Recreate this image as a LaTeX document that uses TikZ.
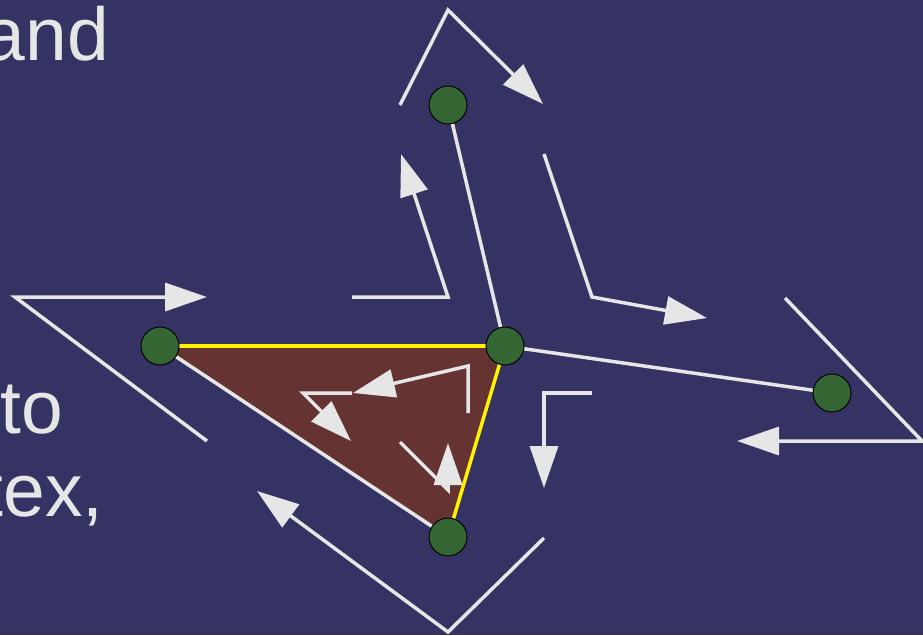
\documentclass[tikz,border=0pt]{standalone}
\usepackage{fontspec}
\setmainfont{Liberation Sans}
\usetikzlibrary{arrows.meta}
\definecolor{bg}{RGB}{52,51,99}
\definecolor{tri}{RGB}{102,51,51}
\definecolor{vert}{RGB}{51,102,51}
\definecolor{ln}{RGB}{230,230,230}
\tikzset{
  vtx/.style={circle,fill=vert,draw=black,line width=1pt,minimum size=38pt,inner sep=0pt},
  edge/.style={draw=ln,line width=3.5pt},
  yedge/.style={draw=yellow,line width=3.5pt},
  flow/.style={draw=ln,line width=3.5pt,line join=miter,-{Triangle[length=42pt,width=28pt,fill=ln]}},
  txt/.style={text=ln,font=\fontsize{75}{90}\selectfont,inner sep=0pt,anchor=base east}
}
\begin{document}
\begin{tikzpicture}[x=1pt,y=-1pt]
\useasboundingbox (0,0) rectangle (923,635);
\fill[bg] (0,0) rectangle (923,635);
\clip (0,0) rectangle (923,635);
% text
\node[txt] (t1) at (109,60) {and};
\node[txt] (t2) at (63,433) {to};
\node[txt] (t3) at (104,516) {tex,};
% vertex positions
\coordinate (pA) at (160,346);
\coordinate (pB) at (505,346);
\coordinate (pC) at (448,105);
\coordinate (pD) at (832,393);
\coordinate (pE) at (448,537);
\fill[tri] (pA) -- (pB) -- (pE) -- cycle;
\path[edge] (pA) -- (pE);
\path[yedge] (pA) -- (pB);
\path[yedge] (pB) -- (pE);
\path[edge] (pB) -- (pC);
\path[edge] (pB) -- (pD);
% arrow polylines
\coordinate (a1s) at (400,105); \coordinate (a1m) at (448,10); \coordinate (a1e) at (543,104);
\coordinate (a2s) at (352,297); \coordinate (a2m) at (448,297); \coordinate (a2e) at (401,154);
\coordinate (a3s) at (544,154); \coordinate (a3m) at (592,297); \coordinate (a3e) at (707,318);
\coordinate (a4s) at (785,298); \coordinate (a4m) at (922,441); \coordinate (a4e) at (737,441);
\coordinate (a5s) at (592,393); \coordinate (a5m) at (544,393); \coordinate (a5e) at (544,488);
\coordinate (a6s) at (544,538); \coordinate (a6m) at (448,632); \coordinate (a6e) at (257,491);
\coordinate (a7s) at (207,441); \coordinate (a7m) at (15,297); \coordinate (a7e) at (207,297);
\coordinate (a8s) at (468,413); \coordinate (a8m) at (468,366); \coordinate (a8e) at (353,393);
\coordinate (a9s) at (352,393); \coordinate (a9m) at (303,393); \coordinate (a9e) at (351,441);
\coordinate (a10s) at (400,442); \coordinate (a10m) at (448,490); \coordinate (a10e) at (448,443);
\foreach \i in {1,...,10}{
  \draw[flow] (a\i s) -- (a\i m) -- (a\i e);
}
% vertices
\node[vtx] (A) at (pA) {};
\node[vtx] (B) at (pB) {};
\node[vtx] (C) at (pC) {};
\node[vtx] (D) at (pD) {};
\node[vtx] (E) at (pE) {};
\end{tikzpicture}
\end{document}
